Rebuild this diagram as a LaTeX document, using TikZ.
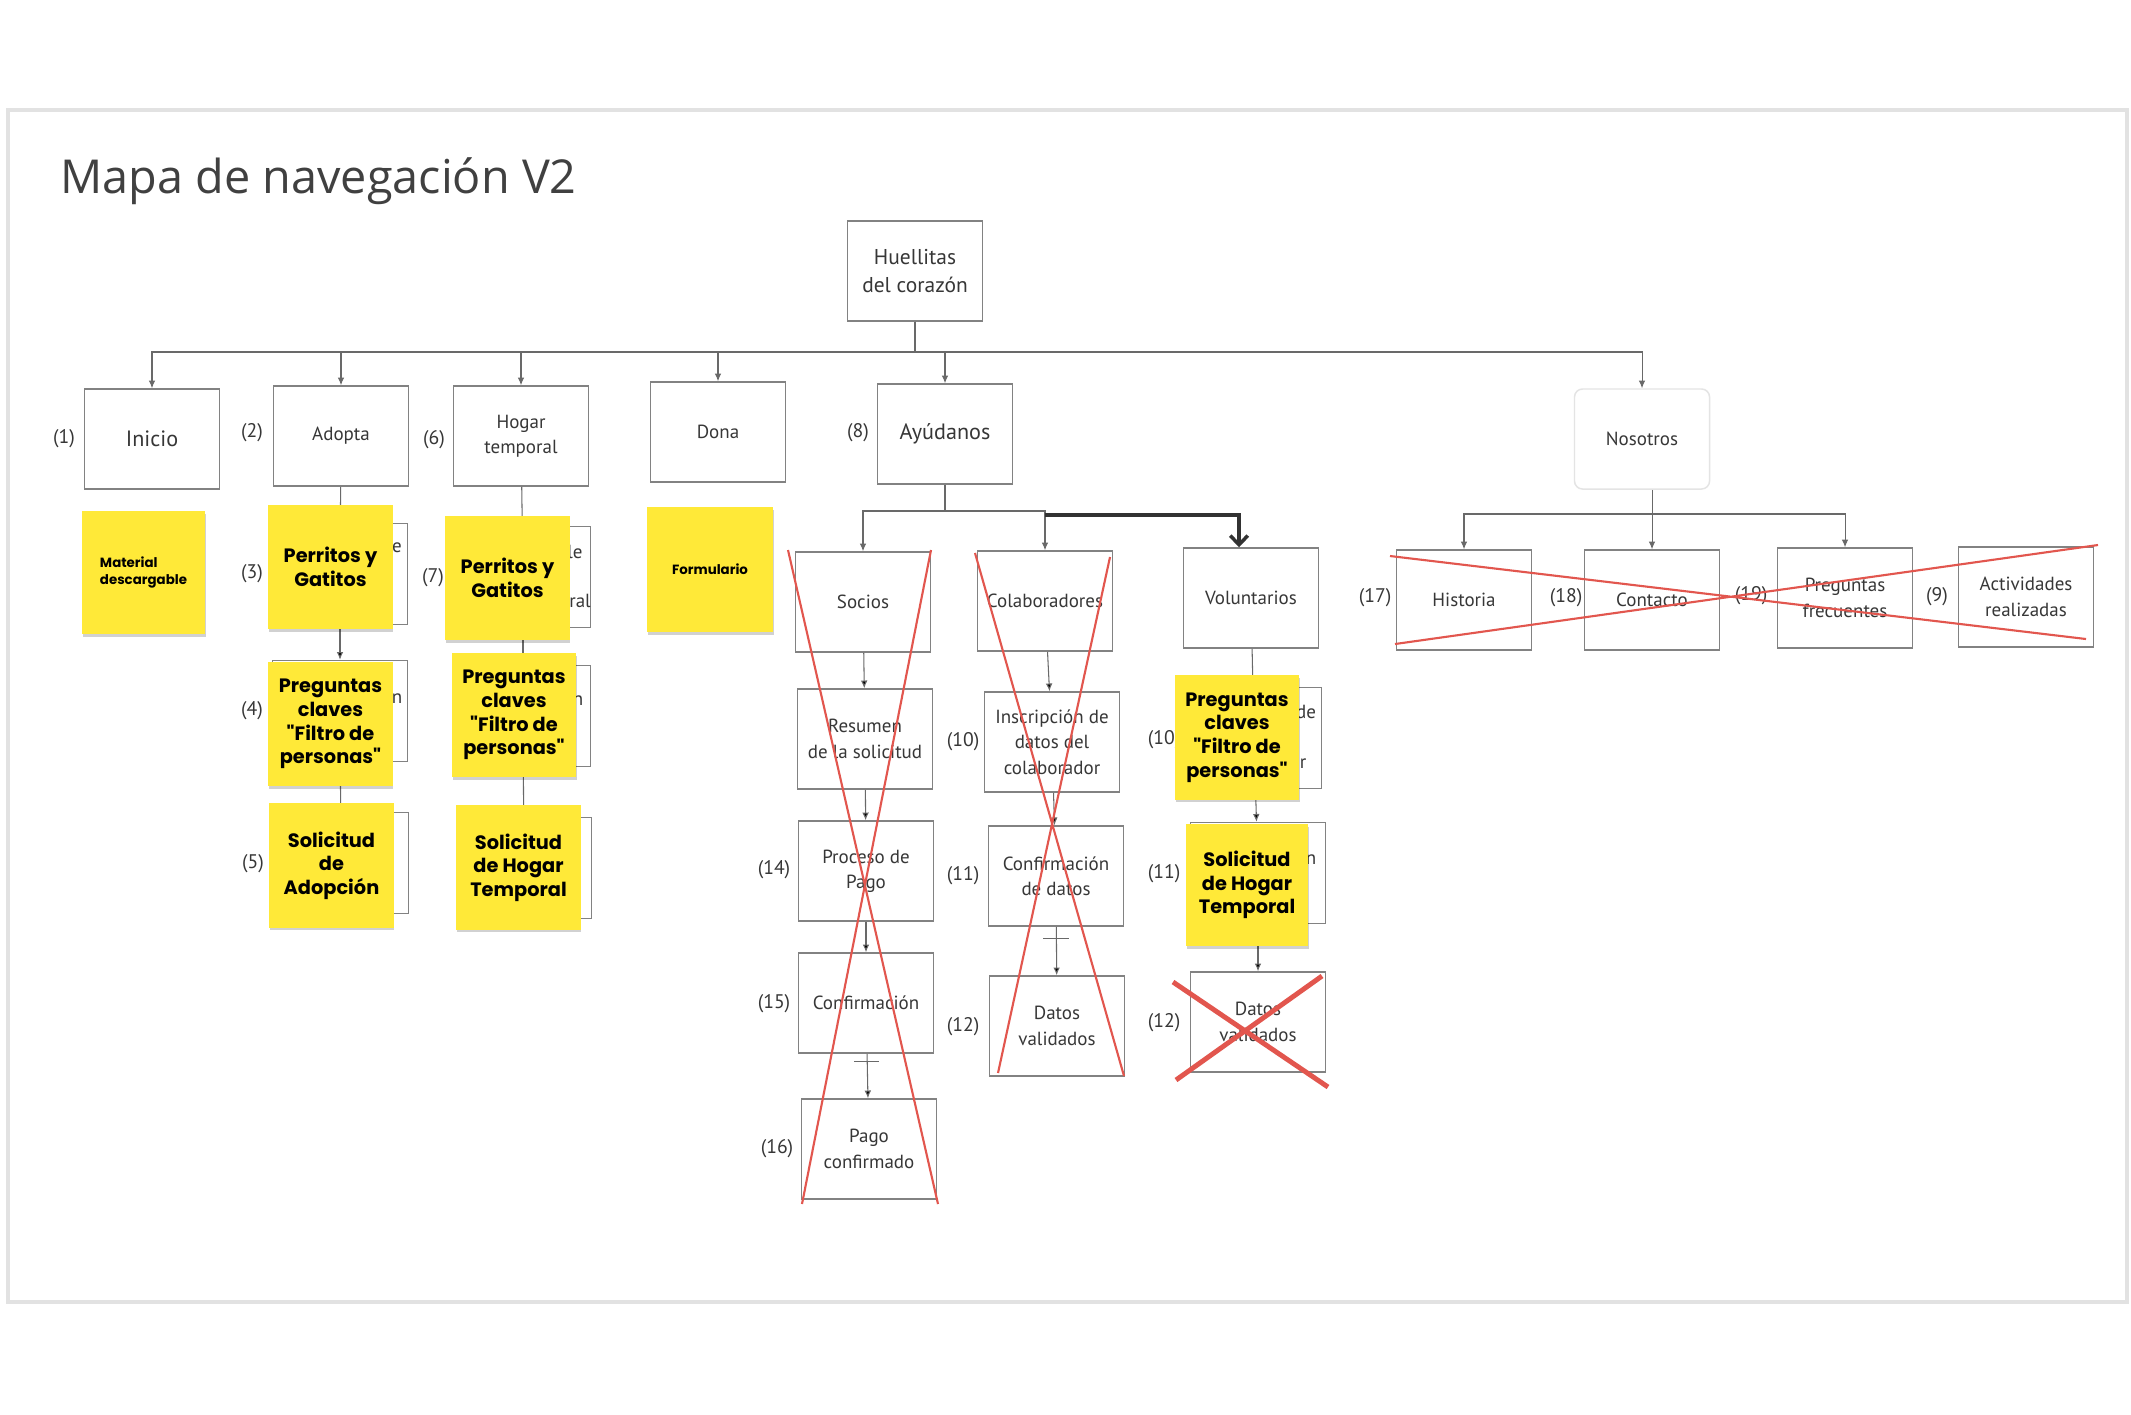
\documentclass[tikz,border=0pt]{standalone}
\usepackage{fontspec}
\setmainfont{PT Sans}
\newfontfamily\notefont{Poppins}
\newfontfamily\titlefont{Open Sans}
\usepackage{tikz}
\usetikzlibrary{calc, shadows, arrows.meta}

\definecolor{noteyellow}{RGB}{255,233,56}
\definecolor{boxline}{RGB}{130,130,130}
\definecolor{boxtext}{RGB}{55,55,55}
\definecolor{linegray}{RGB}{105,105,105}
\definecolor{darkline}{RGB}{50,50,50}
\definecolor{crossred}{RGB}{226,86,78}
\definecolor{framegray}{RGB}{226,226,226}
\definecolor{nosline}{RGB}{228,228,228}
\definecolor{titlegray}{RGB}{64,64,64}

\begin{document}
\begin{tikzpicture}[x=0.01cm, y=-0.01cm, >={Latex[length=2.2pt, width=1.9pt]}]
    % Setup the styles for boxes, notes and labels
    \tikzset{page style/.style={draw=boxline, line width=0.42pt, fill=white,
                                minimum width=1.35cm, minimum height=1cm,
                                inner sep=1pt, align=center, text=boxtext,
                                font=\fontsize{5.4}{7.2}\selectfont},
             big style/.style={page style, font=\fontsize{6.3}{7.6}\selectfont},
             back style/.style={page style, minimum height=1.01cm},
             note style/.style={fill=noteyellow, minimum width=1.24cm,
                                minimum height=1.24cm, inner sep=1pt, align=center,
                                font=\notefont\bfseries\fontsize{5.5}{6.7}\selectfont,
                                drop shadow={shadow xshift=0.2pt, shadow yshift=-0.8pt,
                                             opacity=0.18, fill=black}},
             small note/.style={note style, align=left,
                                font=\notefont\bfseries\fontsize{3.8}{4.9}\selectfont},
             num style/.style={text=boxtext, font=\fontsize{5.6}{7}\selectfont},
             frag style/.style={text=boxtext, inner sep=0pt, font=\fontsize{5.4}{7.2}\selectfont},
             link/.style={->, draw=linegray, line width=0.3pt},
             cross style/.style={draw=crossred, line width=0.6pt}}

    % Page and frame
    \fill[white] (0, 0) rectangle (2131, 1414);
    \draw[framegray, line width=1pt] (8, 110) rectangle (2127, 1302);
    \node[anchor=base west, text=titlegray, inner sep=0pt,
          font=\titlefont\fontsize{13.3}{16}\selectfont] at (60, 193) (title) {Mapa de navegación V2};

    % Draw the pages
    \node[page style, font=\fontsize{6.1}{7.8}\selectfont] at (915, 271) (root) {Huellitas\\del corazón};
    \node[big style]  at (152, 439)  (inicio)   {Inicio};
    \node[page style] at (341, 436)  (adopta)   {Adopta};
    \node[page style] at (521, 436)  (hogar)    {Hogar\\temporal};
    \node[page style] at (718, 432)  (dona)     {Dona};
    \node[big style]  at (945, 434)  (ayudanos) {Ayúdanos};
    \node[page style, draw=nosline, rounded corners=2.3pt] at (1642, 439) (nosotros) {Nosotros};

    \node[page style] at (863, 602)  (socios)    {Socios};
    \node[page style] at (1045, 601) (colab)     {Colaboradores};
    \node[page style] at (1251, 598) (volunt)    {Voluntarios};
    \node[page style] at (865, 739)  (resumen)   {Resumen\\de la solicitud};
    \node[page style] at (1052, 742) (inscrip)   {Inscripción de\\datos del\\colaborador};
    \node[page style] at (866, 871)  (proceso)   {Proceso de\\Pago};
    \node[page style] at (1056, 876) (confdatos) {Confirmación\\de datos};
    \node[page style] at (866, 1003) (confirm)   {Confirmación};
    \node[page style] at (1057, 1026) (datosval) {Datos\\validados};
    \node[page style] at (869, 1149) (pago)      {Pago\\confirmado};
    \node[page style] at (1258, 1022) (datosvol) {Datos\\validados};

    \node[page style] at (1464, 600) (historia)    {Historia};
    \node[page style] at (1652, 600) (contacto)    {Contacto};
    \node[page style] at (1845, 598) (preguntas)   {Preguntas\\frecuentes};
    \node[page style] at (2026, 597) (actividades) {Actividades\\realizadas};

    % Boxes hidden behind the notes
    \node[back style] at (340, 574)  (adb1) {};
    \node[back style] at (340, 711)  (adb2) {};
    \node[back style] at (341, 863)  (adb3) {};
    \node[back style] at (523, 577)  (hob1) {};
    \node[back style] at (523, 716)  (hob2) {};
    \node[back style] at (524, 868)  (hob3) {};
    \node[back style] at (1254, 738) (vob1) {};
    \node[back style] at (1258, 873) (vob2) {};

    \node[frag style] at (397, 548)  (fr1) {e};
    \node[frag style] at (397, 699)  (fr2) {n};
    \node[frag style] at (575, 552)  (fr3) {le};
    \node[frag style] at (580, 601)  (fr4) {ral};
    \node[frag style] at (578, 701)  (fr5) {n};
    \node[frag style] at (1306, 712) (fr6) {de};
    \node[frag style] at (1303, 764) (fr7) {r};
    \node[frag style] at (1311, 860) (fr8) {n};

    % Numbers
    \node[num style] at (64, 439)   (lbl1)  {(1)};
    \node[num style] at (252, 433)  (lbl2)  {(2)};
    \node[num style] at (252, 574)  (lbl3)  {(3)};
    \node[num style] at (252, 711)  (lbl4)  {(4)};
    \node[num style] at (253, 864)  (lbl5)  {(5)};
    \node[num style] at (434, 440)  (lbl6)  {(6)};
    \node[num style] at (433, 578)  (lbl7)  {(7)};
    \node[num style] at (858, 433)  (lbl8)  {(8)};
    \node[num style] at (774, 870)  (lbl14) {(14)};
    \node[num style] at (774, 1004) (lbl15) {(15)};
    \node[num style] at (777, 1149) (lbl16) {(16)};
    \node[num style] at (963, 742)  (lbl10) {(10)};
    \node[num style] at (963, 876)  (lbl11) {(11)};
    \node[num style] at (963, 1027) (lbl12) {(12)};
    \node[num style] at (1164, 740) (lbl10b) {(10)};
    \node[num style] at (1164, 874) (lbl11b) {(11)};
    \node[num style] at (1164, 1023) (lbl12b) {(12)};
    \node[num style] at (1375, 598) (lbl17) {(17)};
    \node[num style] at (1566, 598) (lbl18) {(18)};
    \node[num style] at (1751, 596) (lbl19) {(19)};
    \node[num style] at (1937, 597) (lbl9)  {(9)};

    % Connect the pages
    \coordinate (bus) at (915, 352);
    \foreach \child in {inicio, adopta, hogar, dona, ayudanos, nosotros}
        \draw[link] (root.south) -- (root.south |- bus) -| (\child.north);

    \coordinate (ayu split) at (945, 511);
    \draw[link] (ayudanos.south) -- (ayudanos.south |- ayu split) -| (socios.north);
    \draw[link] (ayudanos.south |- ayu split) -| (colab.north);
    \draw[darkline, line width=1pt, -{Straight Barb[length=2.6pt, width=5pt]}]
        ($(colab.north |- ayu split)+(0, 4)$) -| ($(volunt.north)+(-12, 0)$);

    \coordinate (nos split) at (1652, 514);
    \draw[link] (nosotros.south -| contacto.north) -- (contacto.north);
    \draw[link] (contacto.north |- nos split) -| (historia.north);
    \draw[link] (contacto.north |- nos split) -| (preguntas.north);

    \draw[link]
        (adopta)    edge (adb1)
        (adb1)      edge (adb2)
        (adb2)      edge (adb3)
        (hogar)     edge (hob1)
        (hob1)      edge (hob2)
        (hob2)      edge (hob3)
        (socios)    edge (resumen)
        (resumen)   edge (proceso)
        (proceso)   edge (confirm)
        (confirm)   edge (pago)
        (colab)     edge (inscrip)
        (inscrip)   edge (confdatos)
        (confdatos) edge (datosval)
        (volunt)    edge (vob1)
        (vob1)      edge (vob2)
        (vob2)      edge (datosvol);
    \draw[linegray, line width=0.3pt] ($(confirm.south)+(-12, 8)$) -- ++(25, 0);
    \draw[linegray, line width=0.3pt] ($(confdatos.south)+(-13, 12)$) -- ++(26, 0);

    % Draw the notes
    \node[small note, minimum width=1.23cm, minimum height=1.23cm] at (143.5, 572.5) (material) {Material\\descargable};
    \node[small note, align=center, minimum width=1.26cm, minimum height=1.25cm] at (710, 569.5) (formulario) {Formulario};
    \node[note style] at (330.5, 567)  (adn1) {Perritos y\\Gatitos};
    \node[note style] at (330.5, 724)  (adn2) {Preguntas\\claves\\"Filtro de\\personas"};
    \node[note style] at (331.5, 865.5) (adn3) {Solicitud\\de\\Adopción};
    \node[note style] at (507.5, 578)  (hon1) {Perritos y\\Gatitos};
    \node[note style] at (514, 715)    (hon2) {Preguntas\\claves\\"Filtro de\\personas"};
    \node[note style] at (518.5, 867.5) (hon3) {Solicitud\\de Hogar\\Temporal};
    \node[note style] at (1237, 737.5) (von1) {Preguntas\\claves\\"Filtro de\\personas"};
    \node[note style, minimum width=1.22cm, minimum height=1.22cm] at (1247, 885) (von2) {Solicitud\\de Hogar\\Temporal};

    % Crossed out pages
    \draw[cross style] (788, 550) -- (938, 1204)  (931, 550) -- (802, 1204);
    \draw[cross style] (975, 553) -- (1124, 1076)  (1110, 557) -- (998, 1073);
    \draw[cross style] (1390, 556) -- (2086, 639)  (1395, 644) -- (2098, 545);
    \draw[cross style, line width=1.4pt] (1173, 982) -- (1328, 1087)  (1176, 1080) -- (1322, 976);
\end{tikzpicture}
\end{document}
